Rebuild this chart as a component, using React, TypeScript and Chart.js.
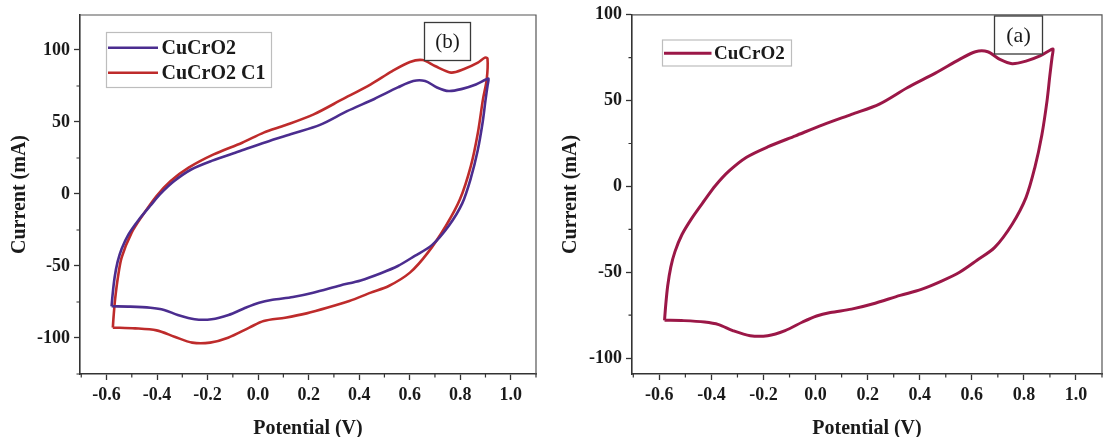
import React, { useEffect, useRef } from "react";
import { Chart, registerables } from "chart.js";

Chart.register(...registerables);

const SERIF = "'Liberation Serif', 'Times New Roman', Times, serif";

// ---- data ----
const seriesNames = ["CuCrO2", "CuCrO2 C1"];
const panelLabels = ["(b)", "(a)"];

// CuCrO2 cyclic voltammogram (loop, starting at the lower-left corner)
const cucro2Potential = [
  -0.58, -0.576, -0.568, -0.556, -0.54, -0.513, -0.473, -0.426, -0.385, -0.332, -0.265,
  -0.184, -0.077, 0.03, 0.138, 0.245, 0.352, 0.46, 0.553, 0.614, 0.661, 0.708, 0.755,
  0.808, 0.862, 0.902, 0.912, 0.908, 0.9, 0.889, 0.869, 0.842, 0.808, 0.755, 0.688, 0.62,
  0.553, 0.486, 0.406, 0.325, 0.218, 0.138, 0.057, 0.004, -0.05, -0.117, -0.184, -0.251,
  -0.318, -0.372, -0.426, -0.506, -0.58,
];
const cucro2Current = [
  -78, -70, -58, -47, -38, -28, -18, -8, 0.4, 9, 17, 23, 29.5, 36, 42, 48, 57.5, 66, 74,
  78.5, 78.5, 74, 71.5, 73, 76, 79.5, 80, 75, 65, 50, 30, 11, -6.5, -22, -35.5, -43, -50,
  -55, -60, -63.5, -68.5, -71.5, -73.5, -75.5, -79, -84, -87, -87, -84, -80.5, -79, -78.2,
  -78,
];

// CuCrO2 C1 cyclic voltammogram
const c1Potential = [
  -0.575, -0.572, -0.566, -0.555, -0.54, -0.501, -0.459, -0.402, -0.346, -0.275, -0.176,
  -0.063, 0.022, 0.107, 0.22, 0.333, 0.446, 0.531, 0.601, 0.651, 0.7, 0.764, 0.813, 0.87,
  0.898, 0.908, 0.905, 0.89, 0.87, 0.842, 0.799, 0.743, 0.672, 0.601, 0.517, 0.446, 0.361,
  0.276, 0.192, 0.107, 0.022, -0.035, -0.119, -0.19, -0.261, -0.331, -0.402, -0.487, -0.575,
];
const c1Current = [
  -92.8, -85, -73, -58, -44, -27, -15.3, -1.4, 9, 18.3, 27.5, 35.6, 42.6, 47.7, 55.3, 65.7,
  76.2, 85.4, 91.7, 93, 88.9, 84.3, 86.6, 91.2, 94.7, 94, 79.6, 65.7, 42.6, 19.4, -3.7,
  -22.2, -40.7, -54.6, -63.9, -68.5, -74.3, -78.9, -82.9, -85.9, -88.2, -92.8, -99.8,
  -103.2, -103.2, -99.1, -94.7, -93.3, -92.8,
];

// axis ranges and tick labels
const potentialRange = [-0.705, 1.1];
const leftCurrentRange = [-125, 124.3];
const rightCurrentRange = [-109.3, 100];
const potentialTicks = [-0.6, -0.4, -0.2, 0.0, 0.2, 0.4, 0.6, 0.8, 1.0];
const currentTicks = [-100, -50, 0, 50, 100];

const axisTitles = { x: "Potential (V)", y: "Current (mA)" };

function toPoints(xs: number[], ys: number[]) {
  return xs.map((x, i) => ({ x, y: ys[i] }));
}

// ---- decoration plugin: frame, minor ticks, legend box, panel label ----
const decorPlugin = {
  id: "decor",
  afterDraw(chart: any, _args: any, opts: any) {
    const { ctx, chartArea: a, scales } = chart;
    const xs = scales.x;
    const ys = scales.y;
    ctx.save();
    // top & right frame
    ctx.strokeStyle = "#555";
    ctx.lineWidth = 1.2;
    ctx.beginPath();
    ctx.moveTo(a.left, a.top);
    ctx.lineTo(a.right, a.top);
    ctx.lineTo(a.right, a.bottom);
    ctx.stroke();
    // minor ticks
    ctx.strokeStyle = "#333";
    ctx.lineWidth = 1.2;
    ctx.beginPath();
    for (let i = Math.ceil(xs.min * 10); i <= Math.floor(xs.max * 10); i++) {
      if (Math.abs(i % 2) === 1) {
        const px = xs.getPixelForValue(i / 10);
        ctx.moveTo(px, a.bottom);
        ctx.lineTo(px, a.bottom + 3.5);
      }
    }
    for (let v = Math.ceil(ys.min / 25) * 25; v <= ys.max; v += 25) {
      if (v % 50 !== 0) {
        const py = ys.getPixelForValue(v);
        ctx.moveTo(a.left - 3.5, py);
        ctx.lineTo(a.left, py);
      }
    }
    ctx.stroke();

    // legend
    const lg = opts.legend;
    if (lg) {
      ctx.fillStyle = "#fff";
      ctx.fillRect(lg.x, lg.y, lg.w, lg.h);
      ctx.strokeStyle = "#bdbdbd";
      ctx.lineWidth = 1.2;
      ctx.strokeRect(lg.x, lg.y, lg.w, lg.h);
      chart.data.datasets.forEach((ds: any, i: number) => {
        const ry = lg.rowY[i];
        ctx.strokeStyle = ds.borderColor;
        ctx.lineWidth = ds.borderWidth;
        ctx.beginPath();
        ctx.moveTo(lg.lineX1, ry);
        ctx.lineTo(lg.lineX2, ry);
        ctx.stroke();
        ctx.fillStyle = "#1a1a1a";
        ctx.font = `bold ${lg.fontSize}px ${SERIF}`;
        ctx.textAlign = "left";
        ctx.textBaseline = "middle";
        ctx.fillText(ds.label, lg.textX, ry + 1);
      });
    }

    // panel label
    const lb = opts.label;
    if (lb) {
      ctx.fillStyle = "#fff";
      ctx.fillRect(lb.x, lb.y, lb.w, lb.h);
      ctx.strokeStyle = "#3a3a3a";
      ctx.lineWidth = 1.3;
      ctx.strokeRect(lb.x, lb.y, lb.w, lb.h);
      ctx.fillStyle = "#1a1a1a";
      ctx.font = `${lb.fontSize}px ${SERIF}`;
      ctx.textAlign = "center";
      ctx.textBaseline = "middle";
      ctx.fillText(lb.text, lb.x + lb.w / 2, lb.y + lb.h / 2 + 1);
    }
    ctx.restore();
  },
};

type PanelSpec = {
  width: number;
  series: { label: string; xs: number[]; ys: number[]; color: string; lw: number }[];
  yRange: number[];
  padRight: number;
  padTop: number;
  yWidth: number;
  xHeight: number;
  yTitlePad: number;
  legend: any;
  label: any;
};

function Panel({ spec, left }: { spec: PanelSpec; left: number }) {
  const ref = useRef<HTMLCanvasElement | null>(null);
  useEffect(() => {
    if (!ref.current) return;
    const tickFont = { family: SERIF, size: 18, weight: "bold" as const };
    const titleFont = { family: SERIF, size: 20, weight: "bold" as const, lineHeight: 0.8 };
    const chart = new Chart(ref.current, {
      type: "scatter",
      data: {
        datasets: spec.series.map((s) => ({
          label: s.label,
          data: toPoints(s.xs, s.ys),
          showLine: true,
          borderColor: s.color,
          backgroundColor: s.color,
          borderWidth: s.lw,
          pointRadius: 0,
          pointHoverRadius: 0,
          tension: 0.3,
          fill: false,
        })),
      },
      options: {
        animation: false,
        responsive: false,
        devicePixelRatio: 1,
        layout: { padding: { left: 0, right: spec.padRight, top: spec.padTop, bottom: 0 } },
        plugins: {
          legend: { display: false },
          tooltip: { enabled: false },
          decor: { legend: spec.legend, label: spec.label },
        } as any,
        scales: {
          x: {
            type: "linear",
            min: potentialRange[0],
            max: potentialRange[1],
            afterBuildTicks: (s: any) => {
              s.ticks = potentialTicks.map((v) => ({ value: v }));
            },
            ticks: {
              autoSkip: false,
              maxRotation: 0,
              padding: 5,
              color: "#1a1a1a",
              font: tickFont,
              callback: (v: any) => Number(v).toFixed(1),
            },
            grid: { display: true, drawOnChartArea: false, tickLength: 6, tickColor: "#333", tickWidth: 1.3 },
            border: { display: true, color: "#333", width: 1.6 },
            title: {
              display: true,
              text: axisTitles.x,
              color: "#1a1a1a",
              font: titleFont,
              padding: { top: 0, bottom: 0 },
            },
            afterFit: (s: any) => {
              s.height = spec.xHeight;
            },
          },
          y: {
            type: "linear",
            min: spec.yRange[0],
            max: spec.yRange[1],
            afterBuildTicks: (s: any) => {
              s.ticks = currentTicks.map((v) => ({ value: v }));
            },
            ticks: {
              autoSkip: false,
              padding: 4,
              color: "#1a1a1a",
              font: tickFont,
              callback: (v: any) => String(Math.round(Number(v))),
            },
            grid: { display: true, drawOnChartArea: false, tickLength: 6, tickColor: "#333", tickWidth: 1.3 },
            border: { display: true, color: "#333", width: 1.6 },
            title: {
              display: true,
              text: axisTitles.y,
              color: "#1a1a1a",
              font: titleFont,
              padding: { top: spec.yTitlePad, bottom: 0 },
            },
            afterFit: (s: any) => {
              s.width = spec.yWidth;
            },
          },
        },
      },
      plugins: [decorPlugin as any],
    });
    return () => chart.destroy();
  }, [spec]);
  return (
    <canvas
      ref={ref}
      width={spec.width}
      height={437}
      style={{ position: "absolute", left, top: 0, width: spec.width, height: 437 }}
    />
  );
}

const leftSpec: PanelSpec = {
  width: 560,
  series: [
    { label: seriesNames[0], xs: cucro2Potential, ys: cucro2Current, color: "#4B2D8F", lw: 2.6 },
    { label: seriesNames[1], xs: c1Potential, ys: c1Current, color: "#BE2B2B", lw: 2.6 },
  ],
  yRange: leftCurrentRange,
  padRight: 24,
  padTop: 15,
  yWidth: 80,
  xHeight: 63,
  yTitlePad: 11.5,
  legend: { x: 106.5, y: 32.5, w: 165, h: 55, lineX1: 108, lineX2: 158, textX: 161.5, rowY: [47.7, 72.7], fontSize: 20 },
  label: { text: panelLabels[0], x: 424.5, y: 22.5, w: 46, h: 38, fontSize: 21 },
};

const rightSpec: PanelSpec = {
  width: 545,
  series: [{ label: seriesNames[0], xs: cucro2Potential, ys: cucro2Current, color: "#9B1747", lw: 3 }],
  yRange: rightCurrentRange,
  padRight: 3,
  padTop: 13,
  yWidth: 72,
  xHeight: 63,
  yTitlePad: 2.5,
  legend: { x: 102.5, y: 40, w: 129, h: 26, lineX1: 104, lineX2: 151.5, textX: 154, rowY: [53.3], fontSize: 19 },
  label: { text: panelLabels[1], x: 434.5, y: 16, w: 48, h: 38, fontSize: 22 },
};

export default function App() {
  return (
    <div style={{ position: "absolute", left: 0, top: 0, width: 1105, height: 437, background: "#fff", overflow: "hidden" }}>
      <Panel spec={leftSpec} left={0} />
      <Panel spec={rightSpec} left={560} />
    </div>
  );
}
